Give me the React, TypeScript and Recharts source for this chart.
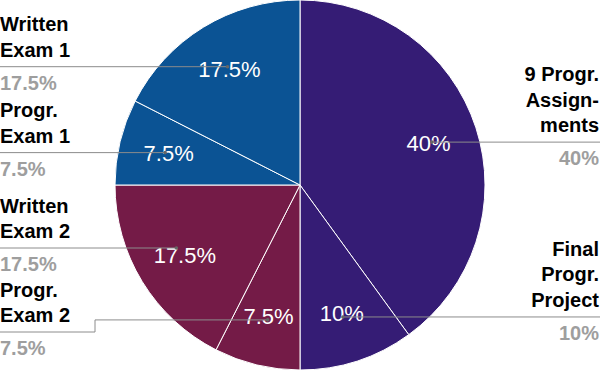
import React from "react";
import { PieChart, Pie, Cell } from "recharts";

const categories = [
  "9 Progr. Assignments",
  "Final Progr. Project",
  "Progr. Exam 2",
  "Written Exam 2",
  "Progr. Exam 1",
  "Written Exam 1",
];
const labelLines = [
  ["9 Progr.", "Assign-", "ments"],
  ["Final", "Progr.", "Project"],
  ["Progr.", "Exam 2"],
  ["Written", "Exam 2"],
  ["Progr.", "Exam 1"],
  ["Written", "Exam 1"],
];
const weights = [40, 10, 7.5, 17.5, 7.5, 17.5];
const percentLabels = ["40%", "10%", "7.5%", "17.5%", "7.5%", "17.5%"];
const colors = ["#351c75", "#351c75", "#741b47", "#741b47", "#0b5394", "#0b5394"];

const W = 600;
const H = 371;
const FONT = "'Liberation Sans', Arial, sans-serif";

const data = categories.map((name, i) => ({ name, value: weights[i] }));

type Item = {
  idx: number;
  right: boolean;
  start: number;
  end: number;
  dotX: number;
  dotY: number;
  lineY: number;
  knee: boolean;
};

const RAD = Math.PI / 180;

function computeLayout(cx: number, cy: number, R: number): Item[] {
  const total = weights.reduce((a, b) => a + b, 0);
  const rd = R * 0.75;
  let cum = 0;
  const items: Item[] = weights.map((w, idx) => {
    const s = (cum / total) * 360;
    cum += w;
    const e = (cum / total) * 360;
    const mid = (s + e) / 2;
    const a = (90 - mid) * RAD;
    const dx = rd * Math.cos(a);
    const dy = -rd * Math.sin(a);
    return {
      idx,
      right: dx > 0,
      start: s,
      end: e,
      dotX: cx + dx,
      dotY: cy + dy,
      lineY: cy + dy,
      knee: false,
    };
  });
  const lineStep = 25.5;
  const place = (group: Item[]) => {
    group.sort((a, b) => a.dotY - b.dotY);
    const minGap = (it: Item) => 58.5 + lineStep * (labelLines[it.idx].length - 1);
    const topMin = (it: Item) => 25 + lineStep * (labelLines[it.idx].length - 1);
    for (let i = 0; i < group.length; i++) {
      if (i === 0) group[i].lineY = Math.max(group[i].lineY, topMin(group[i]));
      else group[i].lineY = Math.max(group[i].lineY, group[i - 1].lineY + minGap(group[i]));
    }
    for (let i = group.length - 1; i >= 0; i--) {
      if (i === group.length - 1) group[i].lineY = Math.min(group[i].lineY, H - 39);
      else group[i].lineY = Math.min(group[i].lineY, group[i + 1].lineY - minGap(group[i + 1]));
    }
    group.forEach((it) => {
      if (Math.abs(it.lineY - it.dotY) < 0.5) return;
      const dy = it.lineY - cy;
      if (Math.abs(dy) < rd) {
        const dx = Math.sqrt(rd * rd - dy * dy) * (it.right ? 1 : -1);
        // clockwise angle from top
        let ang = Math.atan2(dx, -dy) / RAD;
        if (ang < 0) ang += 360;
        if (ang >= it.start && ang <= it.end) {
          it.dotX = cx + dx;
          it.dotY = it.lineY;
          return;
        }
      }
      it.knee = true;
    });
  };
  place(items.filter((it) => it.right));
  place(items.filter((it) => !it.right));
  return items;
}

let cache: { key: string; items: Item[] } | null = null;
function getLayout(cx: number, cy: number, R: number) {
  const key = `${cx}-${cy}-${R}`;
  if (!cache || cache.key !== key) cache = { key, items: computeLayout(cx, cy, R) };
  return cache.items;
}

const renderLabel = (props: any) => {
  const cx = Number(props.cx);
  const cy = Number(props.cy);
  const R = Number(props.outerRadius);
  const index = props.index as number;
  const midAngle = Number(props.midAngle);
  const items = getLayout(cx, cy, R);
  const it = items[index];
  const rt = R * 0.73;
  const tx = cx + rt * Math.cos(midAngle * RAD);
  const ty = cy - rt * Math.sin(midAngle * RAD);
  const lines = labelLines[index];
  const edgeX = it.right ? W : 0;
  const kneeX = it.right ? W - 95 : 95;
  const pts = it.knee
    ? `${edgeX},${it.lineY} ${kneeX},${it.lineY} ${kneeX},${it.dotY} ${it.dotX},${it.dotY}`
    : `${edgeX},${it.lineY} ${it.dotX},${it.dotY}`;
  const textX = it.right ? W - 1 : 0;
  const anchor = it.right ? "end" : "start";
  const firstBase = it.lineY - 10 - 25.5 * (lines.length - 1);
  return (
    <g key={`lbl-${index}`}>
      <text
        x={tx}
        y={ty}
        fill="#ffffff"
        fontSize={22}
        fontFamily={FONT}
        textAnchor="middle"
        dominantBaseline="central"
      >
        {percentLabels[index]}
      </text>
      <polyline points={pts} fill="none" stroke="#8c8c8c" strokeWidth={1} />
      <circle cx={it.dotX} cy={it.dotY} r={1.8} fill="#666666" />
      {lines.map((ln, k) => (
        <text
          key={k}
          x={textX}
          y={firstBase + 25.5 * k}
          fill="#000000"
          fontSize={20}
          fontWeight="bold"
          fontFamily={FONT}
          textAnchor={anchor}
        >
          {ln}
        </text>
      ))}
      <text
        x={textX}
        y={it.lineY + 23}
        fill="#9e9e9e"
        fontSize={20}
        fontWeight="bold"
        fontFamily={FONT}
        textAnchor={anchor}
      >
        {percentLabels[index]}
      </text>
    </g>
  );
};

export default function App() {
  return (
    <div style={{ position: "absolute", left: 0, top: 0, width: W, height: H, background: "#fff" }}>
      <PieChart width={W} height={H} margin={{ top: 0, right: 0, bottom: 0, left: 0 }}>
        <Pie
          data={data}
          dataKey="value"
          nameKey="name"
          cx={300}
          cy={185}
          outerRadius={185}
          startAngle={90}
          endAngle={-270}
          stroke="#ffffff"
          strokeWidth={1}
          label={renderLabel}
          labelLine={false}
          isAnimationActive={false}
        >
          {data.map((d, i) => (
            <Cell key={d.name} fill={colors[i]} />
          ))}
        </Pie>
      </PieChart>
    </div>
  );
}
